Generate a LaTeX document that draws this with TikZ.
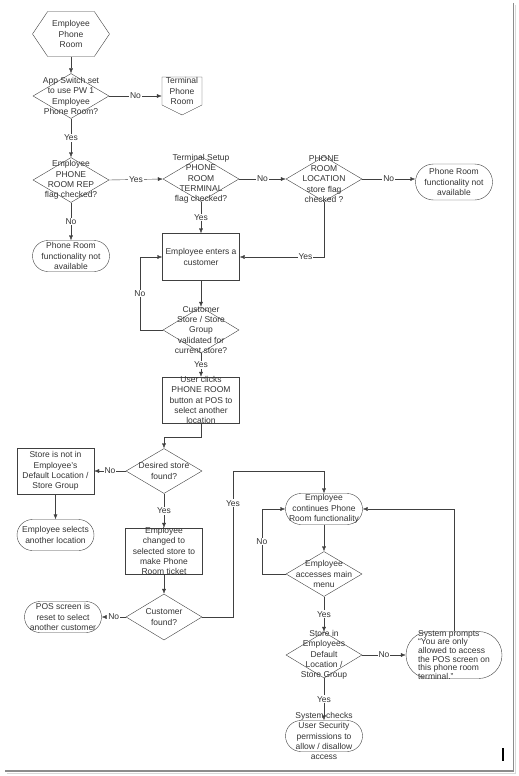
\documentclass[tikz,border=0pt]{standalone}
\usepackage{fontspec}
\setmainfont{Liberation Sans}
\usetikzlibrary{arrows.meta,shapes.geometric,shapes.symbols,shapes.misc}

\begin{document}
\begin{tikzpicture}[
    x=1pt,y=-1pt,
    every node/.style={font=\fontsize{8.5}{10.3}\selectfont,align=center,text=black!80},
    txt/.style={inner sep=0pt},
    decision/.style={
        diamond,
        draw=black!75,
        minimum width=76pt,
        minimum height=45pt,
        inner sep=0pt
    },
    process/.style={
        rectangle,
        draw=black!75,
        minimum width=77pt,
        minimum height=46pt,
        inner sep=0pt
    },
    terminal/.style={
        rounded rectangle,
        draw=black!75,
        minimum width=77pt,
        minimum height=31pt,
        inner sep=0pt
    },
    prep/.style={
        signal,signal to=west and east,
        signal pointer angle=112,
        draw=black!75,
        minimum width=77pt,
        minimum height=45pt,
        inner sep=0pt
    },
    offpage/.style={
        signal,signal to=south,
        signal pointer angle=127,
        draw=black!75,
        minimum width=40pt,
        minimum height=28pt,
        inner sep=0pt
    },
    lbl/.style={fill=white,inner sep=1pt},
    arrow/.style={draw=black!75,-{Latex[length=5pt,width=4pt]}}
]
\useasboundingbox (0,0) rectangle (519,776);

% Page edge
\draw[black!45,line width=1.6pt] (513.5,3) -- (513.5,771) -- (5,771);
\draw[black!15,line width=1pt] (515.5,5) -- (515.5,773) -- (7,773);

% Top row
\node[prep,label={[txt]center:{Employee\\Phone\\Room}}] (start) at (71,34) {};

\node[decision,label={[txt]center:{App Switch set\\to use PW 1\\Employee\\Phone Room?}}] (appswitch) at (71,96) {};

\node[offpage,label={[txt]center:{Terminal\\Phone\\Room}}] (termroom) at (182,91) {};

\node[decision,label={[txt]center:{Employee\\PHONE\\ROOM REP\\flag checked?}}] (repflag) at (71,180) {};

\node[decision,label={[txt]center:{Terminal Setup\\PHONE\\ROOM\\TERMINAL\\flag checked?}}] (termflag) at (201,179) {};

\node[decision,label={[txt]center:{PHONE\\ROOM\\LOCATION\\store flag\\checked ?}}] (locflag) at (324,179) {};

\node[terminal,minimum height=36pt,label={[txt]center:{Phone Room\\functionality not\\available}}] (notavail) at (454,182) {};

\node[terminal,label={[txt]center:{Phone Room\\functionality not\\available}}] (notavailrep) at (71,256) {};

% Customer entry
\node[process,minimum height=47pt,label={[txt]center:{Employee enters a\\customer}}] (enter) at (201,257) {};

\node[decision,minimum height=46pt,label={[txt]center:{Customer\\Store / Store\\Group\\validated for\\current store?}}] (validated) at (201,330) {};

\node[process,label={[txt]center:{User clicks\\PHONE ROOM\\button at POS to\\select another\\location}}] (userclicks) at (201,400) {};

% Store selection
\node[decision,label={[txt]center:{Desired store\\found?}}] (desired) at (164,471) {};

\node[process,label={[txt]center:{Store is not in\\Employee’s\\Default Location /\\Store Group}}] (notin) at (55.5,471) {};

\node[terminal,label={[txt]center:{Employee selects\\another location}}] (selects) at (55.5,535) {};

\node[process,label={[txt]center:{Employee\\changed to\\selected store to\\make Phone\\Room ticket}}] (changed) at (164,551) {};

\node[decision,minimum height=46pt,label={[txt]center:{Customer\\found?}}] (custfound) at (164,617) {};

\node[terminal,label={[txt]center:{POS screen is\\reset to select\\another customer}}] (reset) at (63,617) {};

% Phone room functionality
\node[terminal,label={[txt]center:{Employee\\continues Phone\\Room functionality}}] (continues) at (324,509) {};

\node[decision,label={[txt]center:{Employee\\accesses main\\menu}}] (mainmenu) at (324,574) {};

\node[decision,minimum height=46pt,label={[txt]center:{Store in\\Employees\\Default\\Location /\\Store Group}}] (storein) at (324,655) {};

\node[terminal,minimum width=96pt,minimum height=47pt,label={[txt,align=left,font=\fontsize{8.5}{8.7}\selectfont]center:{System prompts\\“You are only\\allowed to access\\the POS screen on\\this phone room\\terminal.”}}] (prompts) at (454,655) {};

\node[terminal,label={[txt]center:{System checks\\User Security\\permissions to\\allow / disallow\\access}}] (checks) at (324,736) {};

\coordinate (yesturn) at (233,471);

% Relations
\draw[arrow] (start.south) -- (appswitch.north);
\draw[arrow] (appswitch.east) -- node[lbl]{No} (appswitch.east -| termroom.west);
\draw[arrow] (appswitch.south) -- node[lbl]{Yes} (repflag.north);
\draw[arrow] (repflag.east) -- node[lbl]{Yes} (termflag.west);
\draw[arrow] (repflag.south) -- node[lbl]{No} (notavailrep.north);
\draw[arrow] (termflag.east) -- node[lbl]{No} (locflag.west);
\draw[arrow] (locflag.east) -- node[lbl]{No} (locflag.east -| notavail.west);
\draw[arrow] (termflag.south) -- node[lbl]{Yes} (enter.north);
\draw[arrow] (locflag.south) |- node[pos=0.61,lbl]{Yes} (enter.east);
\draw[arrow] (enter.south) -- (validated.north);
\draw[arrow] (validated.west) -- ++(-23,0) |- node[pos=0.25,lbl]{No} (enter.west);
\draw[arrow] (validated.south) -- node[lbl]{Yes} (userclicks.north);
\draw[arrow] (userclicks.south) -- ++(0,14) -| (desired.north);
\draw[arrow] (desired.west) -- node[lbl]{No} (notin.east);
\draw[arrow] (notin.south) -- (selects.north);
\draw[arrow] (desired.south) -- node[lbl]{Yes} (changed.north);
\draw[arrow] (changed.south) -- (custfound.north);
\draw[arrow] (custfound.west) -- node[lbl]{No} (reset.east);
\draw[arrow] (custfound.east) -| node[pos=0.89,lbl]{Yes} (yesturn) -| (continues.north);
\draw[arrow] (continues.south) -- (mainmenu.north);
\draw[arrow] (mainmenu.west) -- ++(-24,0) |- node[pos=0.25,lbl]{No} (continues.west);
\draw[arrow] (mainmenu.south) -- node[lbl]{Yes} (storein.north);
\draw[arrow] (storein.east) -- node[lbl]{No} (prompts.west);
\draw[arrow] (prompts.north) |- (continues.east);
\draw[arrow] (storein.south) -- node[lbl]{Yes} (checks.north);

% Cursor mark
\draw[line width=1.8pt] (503,748) -- (503,761);

\end{tikzpicture}
\end{document}
